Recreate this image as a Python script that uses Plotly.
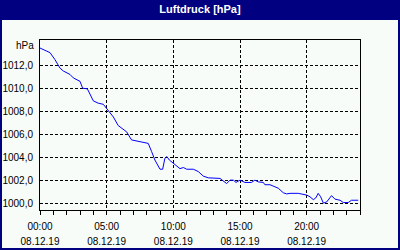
import plotly.graph_objects as go

day = "2019-12-08"
times = ["00:00","00:45","01:07","01:30","01:45","02:15","02:30","03:00","03:12","03:33",
         "04:00","04:22","04:45","05:07","05:30","05:52","06:15","06:30","06:52","07:15",
         "08:07","08:22","08:37","09:00","09:12","09:22","09:31","09:42","10:07","10:30",
         "10:45","11:00","11:30","11:52","12:15","12:37","13:30","13:45","14:00","14:15",
         "14:30","14:42","15:00","15:22","15:52","16:07","16:22","16:45","16:52","17:15",
         "17:37","17:52","18:15","18:30","18:45","19:22","20:00","20:15","20:30","20:41",
         "20:52","21:03","21:15","21:30","21:52","22:07","22:30","22:45","23:07","23:22","23:52"]
pressure = [1013.5,1013.1,1012.5,1011.75,1011.5,1011.2,1010.9,1010.6,1010.0,1009.95,
            1008.9,1008.7,1008.6,1008.1,1007.5,1006.75,1006.45,1006.2,1005.5,1005.4,
            1005.2,1004.5,1003.75,1002.95,1002.95,1003.9,1004.05,1003.75,1003.4,1003.0,
            1003.1,1002.95,1002.95,1002.75,1002.35,1002.2,1002.15,1001.95,1001.7,1002.0,
            1002.0,1001.8,1002.0,1001.8,1001.8,1002.0,1001.85,1001.8,1001.6,1001.6,
            1001.4,1001.3,1000.9,1000.8,1000.85,1000.85,1000.7,1000.55,1000.3,1000.45,
            1000.85,1000.55,1000.0,1000.1,1000.65,1000.35,1000.25,1000.05,1000.05,1000.25,1000.25]

x_tick_hours = ["00:00","05:00","10:00","15:00","20:00"]
x_tick_date = "08.12.19"
y_ticks = [1000, 1002, 1004, 1006, 1008, 1010, 1012]
y_ticktext = ["1000,0","1002,0","1004,0","1006,0","1008,0","1010,0","1012,0"]
title = "Luftdruck [hPa]"
unit = "hPa"

xs = [f"{day} {t}" for t in times]
tickvals = [f"{day} {t}" for t in x_tick_hours]

NAVY = "#000080"
BG = "#F8FCF8"
FONT = "Liberation Sans"

fig = go.Figure()
fig.add_trace(go.Scatter(x=xs, y=pressure, mode="lines",
                         line=dict(color="#0000FF", width=1), showlegend=False))
# invisible trace for second axis (date labels)
fig.add_trace(go.Scatter(x=xs, y=pressure, mode="lines", xaxis="x2",
                         line=dict(color="rgba(0,0,0,0)", width=0), showlegend=False,
                         hoverinfo="skip"))

xrange = [f"{day} 00:00", "2019-12-09 00:00"]
fig.update_layout(
    width=400, height=250,
    margin=dict(l=40, r=40, t=40, b=40, autoexpand=False),
    paper_bgcolor=BG, plot_bgcolor=BG,
    font=dict(family=FONT, size=10, color="black"),
    title=dict(text=f"<b>{title}</b>", font=dict(family=FONT, size=11, color="white"),
               x=0.5, xanchor="center", y=1 - 9 / 250, yanchor="middle", yref="container"),
    xaxis=dict(type="date", range=xrange, tickmode="array", tickvals=tickvals,
               ticktext=x_tick_hours, ticks="outside", ticklen=4, tickcolor="black",
               showline=True, linecolor="black", linewidth=1, mirror=True,
               showgrid=True, gridcolor="black", gridwidth=1, griddash="3px,2px",
               zeroline=False, ticklabelstandoff=3, automargin=False,
               minor=dict(tick0=f"{day} 00:00", dtick=3600000, ticks="outside",
                          ticklen=4, tickcolor="black", showgrid=False)),
    xaxis2=dict(type="date", range=xrange, overlaying="x", anchor="y", side="bottom",
                tickmode="array", tickvals=tickvals, ticktext=[x_tick_date] * len(tickvals),
                ticks="", showline=False, showgrid=False, zeroline=False,
                ticklabelstandoff=24, automargin=False),
    yaxis=dict(range=[999.4, 1014.2], tickmode="array", tickvals=y_ticks, ticktext=y_ticktext,
               ticks="", showline=True, linecolor="black", linewidth=1, mirror=True,
               showgrid=True, gridcolor="black", gridwidth=1, griddash="3px,2px",
               zeroline=False, ticklabelstandoff=4, automargin=False),
    annotations=[dict(text=unit, xref="paper", yref="paper", x=0, y=(210 - 45) / 170,
                      xanchor="right", yanchor="middle", xshift=-4, showarrow=False,
                      font=dict(family=FONT, size=10, color="black"))],
    shapes=[
        dict(type="rect", xref="paper", yref="paper", x0=-40 / 320, x1=360 / 320,
             y0=190 / 170, y1=210 / 170, fillcolor=NAVY, line=dict(width=0), layer="above"),
        dict(type="rect", xref="paper", yref="paper", x0=-39 / 320, x1=359 / 320,
             y0=-39 / 170, y1=210 / 170, fillcolor="rgba(0,0,0,0)",
             line=dict(color=NAVY, width=2), layer="above"),
    ],
)

fig.write_html("out.html")
